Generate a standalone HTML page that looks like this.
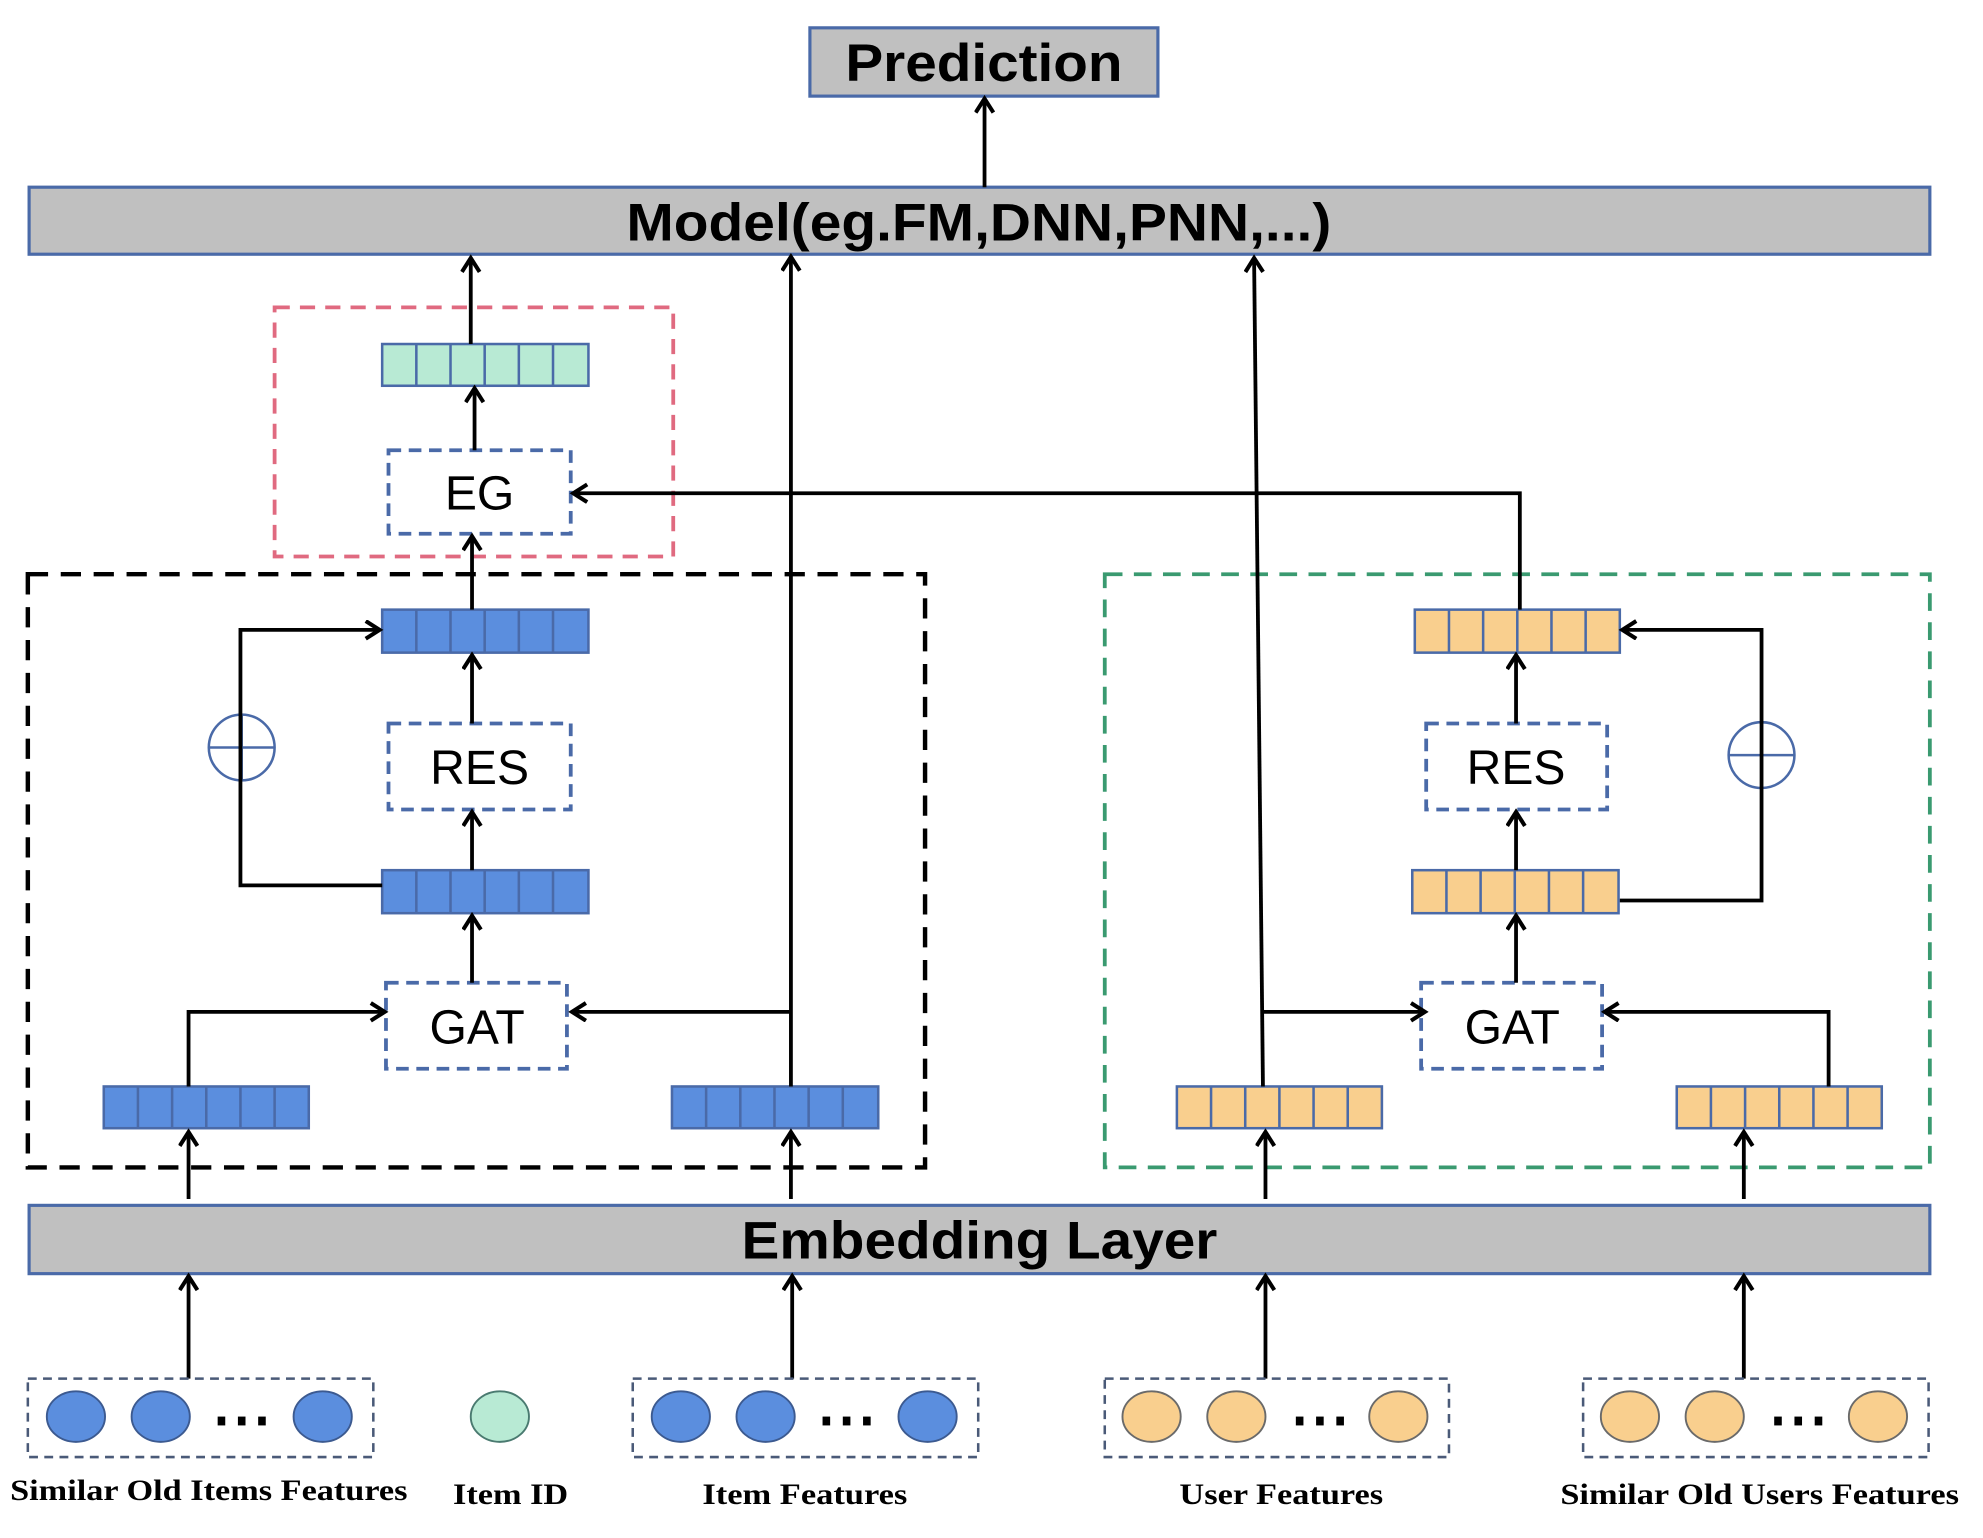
<!DOCTYPE html>
<html><head><meta charset="utf-8"><style>html,body{margin:0;padding:0;background:#fff}svg{display:block}</style></head>
<body>
<svg width="1983" height="1538" viewBox="0 0 1567 1216" preserveAspectRatio="none" xmlns="http://www.w3.org/2000/svg">
<defs>
<marker id="a" markerWidth="16" markerHeight="18" refX="13" refY="8" orient="auto" markerUnits="userSpaceOnUse">
<polyline points="2,1 13,8 2,15" fill="none" stroke="#000" stroke-width="3.2"/>
</marker>
</defs>
<g font-family="Liberation Sans, sans-serif">
<rect x="640" y="22" width="275" height="54" fill="#c0c0c0" stroke="#4a6aa8" stroke-width="2.5"/>
<text x="668" y="64" font-size="42" font-weight="bold" textLength="219" lengthAdjust="spacingAndGlyphs">Prediction</text>
<rect x="23" y="148" width="1502" height="53" fill="#c0c0c0" stroke="#4a6aa8" stroke-width="2.5"/>
<text x="495" y="190" font-size="42" font-weight="bold" textLength="557" lengthAdjust="spacingAndGlyphs">Model(eg.FM,DNN,PNN,...)</text>
<rect x="23" y="953" width="1502" height="54" fill="#c0c0c0" stroke="#4a6aa8" stroke-width="2.5"/>
<text x="586" y="995" font-size="42" font-weight="bold" textLength="376" lengthAdjust="spacingAndGlyphs">Embedding Layer</text>

<rect x="217" y="243" width="315" height="197" fill="none" stroke="#e06a80" stroke-width="3" stroke-dasharray="12,8"/>
<rect x="22" y="454" width="709" height="469" fill="none" stroke="#000" stroke-width="3.5" stroke-dasharray="16,10"/>
<rect x="873" y="454" width="652" height="469" fill="none" stroke="#3a9a70" stroke-width="3" stroke-dasharray="14,9"/>

<g fill="#fff" stroke="#4a6aa8" stroke-width="3" stroke-dasharray="10,6">
<rect x="307" y="356" width="144" height="66"/>
<rect x="307" y="572" width="144" height="68"/>
<rect x="305" y="777" width="143" height="68"/>
<rect x="1127" y="572" width="143" height="68"/>
<rect x="1123" y="777" width="143" height="68"/>
</g>
<g font-size="38" text-anchor="middle">
<text x="379" y="403">EG</text>
<text x="379" y="620">RES</text>
<text x="377" y="825">GAT</text>
<text x="1198" y="620">RES</text>
<text x="1195" y="825">GAT</text>
</g>

<g stroke="#4a6aa8" stroke-width="2">
<g fill="#b8ead4"><rect x="302" y="272" width="163" height="33"/></g>
<g fill="#5b8ede">
<rect x="302" y="482" width="163" height="34"/>
<rect x="302" y="688" width="163" height="34"/>
<rect x="82" y="859" width="162" height="33"/>
<rect x="531" y="859" width="163" height="33"/>
</g>
<g fill="#f9cf8e">
<rect x="1118" y="482" width="162" height="34"/>
<rect x="1116" y="688" width="163" height="34"/>
<rect x="930" y="859" width="162" height="33"/>
<rect x="1325" y="859" width="162" height="33"/>
</g>
<path fill="none" d="M329 272v33M356 272v33M383 272v33M410 272v33M437 272v33
M329 482v34M356 482v34M383 482v34M410 482v34M437 482v34
M329 688v34M356 688v34M383 688v34M410 688v34M437 688v34
M109 859v33M136 859v33M163 859v33M190 859v33M217 859v33
M558 859v33M585 859v33M612 859v33M639 859v33M666 859v33
M1145 482v34M1172 482v34M1199 482v34M1226 482v34M1253 482v34
M1143 688v34M1170 688v34M1197 688v34M1224 688v34M1251 688v34
M957 859v33M984 859v33M1011 859v33M1038 859v33M1065 859v33
M1352 859v33M1379 859v33M1406 859v33M1433 859v33M1460 859v33"/>
</g>

<g fill="#fff" stroke="#4a6aa8" stroke-width="2">
<circle cx="191" cy="591" r="26"/><path d="M165 591h52M191 565v52"/>
<circle cx="1392" cy="597" r="26"/><path d="M1366 597h52M1392 571v52"/>
</g>

<g fill="none" stroke="#000" stroke-width="3" marker-end="url(#a)">
<path d="M778 148V78"/>
<path d="M372 272V204"/>
<path d="M375 356V307"/>
<path d="M373 482V424"/>
<path d="M1201 482V390H453"/>
<path d="M302 700H190V498H300"/>
<path d="M373 572V518"/>
<path d="M373 688V642"/>
<path d="M373 777V724"/>
<path d="M149 859V800H304"/>
<path d="M625 859V203"/>
<path d="M625 800H452"/>
<path d="M149 948V895"/>
<path d="M625 948V895"/>
<path d="M1280 712H1392V498H1282"/>
<path d="M1198 572V518"/>
<path d="M1198 688V642"/>
<path d="M1198 777V724"/>
<path d="M998 859L991 204"/>
<path d="M998 800H1126"/>
<path d="M1445 859V800H1268"/>
<path d="M1000 948V895"/>
<path d="M1378 948V895"/>
<path d="M149 1090V1009"/>
<path d="M626 1090V1009"/>
<path d="M1000 1090V1009"/>
<path d="M1378 1090V1009"/>
</g>

<g fill="none" stroke="#4a5a78" stroke-width="2" stroke-dasharray="7,5">
<rect x="22" y="1090" width="273" height="62"/>
<rect x="500" y="1090" width="273" height="62"/>
<rect x="873" y="1090" width="272" height="62"/>
<rect x="1251" y="1090" width="273" height="62"/>
</g>
<g stroke="#3c5a90" stroke-width="1.5" fill="#5b8ede">
<ellipse cx="60" cy="1120" rx="23" ry="20"/><ellipse cx="127" cy="1120" rx="23" ry="20"/><ellipse cx="255" cy="1120" rx="23" ry="20"/>
<ellipse cx="538" cy="1120" rx="23" ry="20"/><ellipse cx="605" cy="1120" rx="23" ry="20"/><ellipse cx="733" cy="1120" rx="23" ry="20"/>
</g>
<ellipse cx="395" cy="1120" rx="23" ry="20" fill="#b8ead4" stroke="#4a7a70" stroke-width="1.5"/>
<g stroke="#6a6a6a" stroke-width="1.5" fill="#f9cf8e">
<ellipse cx="910" cy="1120" rx="23" ry="20"/><ellipse cx="977" cy="1120" rx="23" ry="20"/><ellipse cx="1105" cy="1120" rx="23" ry="20"/>
<ellipse cx="1288" cy="1120" rx="23" ry="20"/><ellipse cx="1355" cy="1120" rx="23" ry="20"/><ellipse cx="1484" cy="1120" rx="23" ry="20"/>
</g>
<g fill="#000">
<rect x="172" y="1120" width="6" height="7"/><rect x="188" y="1120" width="6" height="7"/><rect x="204" y="1120" width="6" height="7"/>
<rect x="650" y="1120" width="6" height="7"/><rect x="666" y="1120" width="6" height="7"/><rect x="682" y="1120" width="6" height="7"/>
<rect x="1024" y="1120" width="6" height="7"/><rect x="1040" y="1120" width="6" height="7"/><rect x="1056" y="1120" width="6" height="7"/>
<rect x="1402" y="1120" width="6" height="7"/><rect x="1418" y="1120" width="6" height="7"/><rect x="1434" y="1120" width="6" height="7"/>
</g>
</g>
<g font-family="Liberation Serif, serif" font-weight="bold" font-size="23">
<text x="8" y="1186" textLength="314" lengthAdjust="spacingAndGlyphs">Similar Old Items Features</text>
<text x="358" y="1189" textLength="91" lengthAdjust="spacingAndGlyphs">Item ID</text>
<text x="555" y="1189" textLength="162" lengthAdjust="spacingAndGlyphs">Item Features</text>
<text x="932" y="1189" textLength="161" lengthAdjust="spacingAndGlyphs">User Features</text>
<text x="1233" y="1189" textLength="315" lengthAdjust="spacingAndGlyphs">Similar Old Users Features</text>
</g>
</svg>
</body></html>
